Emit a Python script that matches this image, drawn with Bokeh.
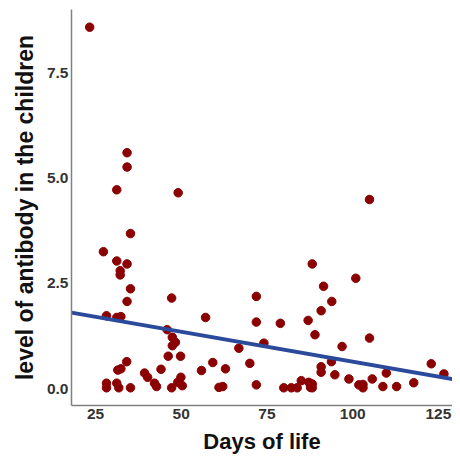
from bokeh.plotting import figure
from bokeh.models import ColumnDataSource, FixedTicker, NumeralTickFormatter, Range1d
from bokeh.embed import file_html
from bokeh.resources import INLINE
import numpy as np

days = [23.3, 34.2, 34.2, 31.2, 49.1, 35.2, 27.3, 31.2, 34.2, 32.2,
        32.2, 35.2, 34.2, 47.2, 28.2, 31.2, 32.4, 45.9, 47.4, 48.3,
        47.4, 46.2, 49.8, 34.1, 31.5, 32.4, 44.1, 39.3, 40.2, 49.9,
        42.2, 42.8, 49.0, 50.3, 47.2, 28.2, 28.2, 31.2, 31.8, 35.2,
        71.9, 57.1, 71.9, 78.9, 87.0, 90.8, 89.0, 74.1, 66.8, 59.2,
        70.0, 55.9, 62.9, 61.0, 62.1, 71.9, 79.9, 82.1, 83.8, 85.0,
        87.2, 87.7, 90.8, 90.8, 91.5, 104.9, 88.2, 100.9, 93.9, 96.9,
        104.9, 93.8, 94.8, 98.9, 101.8, 103.0, 103.0, 105.7, 108.8, 109.8,
        112.8, 117.8, 122.9, 126.6, 88.2, 88.2]
antibody = [8.58, 5.60, 5.26, 4.72, 4.65, 3.68, 3.25, 3.03, 2.96, 2.80,
            2.70, 2.37, 2.07, 2.15, 1.73, 1.69, 1.71, 1.40, 1.22, 1.10,
            1.02, 0.77, 0.77, 0.64, 0.44, 0.47, 0.46, 0.37, 0.27, 0.27,
            0.13, 0.05, 0.15, 0.07, 0.02, 0.13, 0.02, 0.13, 0.02, 0.02,
            2.19, 1.69, 1.58, 1.55, 1.62, 1.85, 1.28, 1.08, 0.96, 0.62,
            0.60, 0.43, 0.47, 0.03, 0.05, 0.09, 0.02, 0.02, 0.02, 0.19,
            0.15, 0.03, 0.52, 0.39, 2.43, 4.49, 2.96, 2.62, 2.07, 1.00,
            1.20, 0.64, 0.33, 0.23, 0.09, 0.10, 0.02, 0.23, 0.05, 0.37,
            0.05, 0.14, 0.59, 0.35, 0.11, 0.02]

fit_intercept = 2.06
fit_slope = -0.0142

x_ticks = [25, 50, 75, 100, 125]
y_ticks = [0, 2.5, 5.0, 7.5]

x_lo, x_hi = 18, 129.1
y_lo, y_hi = -0.4, 9.0

p = figure(width=452, height=456, output_backend="svg", toolbar_location=None,
           x_range=Range1d(x_lo, x_hi), y_range=Range1d(y_lo, y_hi),
           min_border_left=71, min_border_right=0, min_border_top=9, min_border_bottom=51)
p.outline_line_color = None
p.grid.grid_line_color = None
p.background_fill_color = "white"

src = ColumnDataSource(dict(x=days, y=antibody))
p.scatter("x", "y", source=src, size=8.5, fill_color="#8b0000", line_color="#8b0000")

fx = np.array([x_lo, x_hi])
p.line(fx, fit_intercept + fit_slope * fx, line_color="#2b4a9b", line_width=4)

p.xaxis.ticker = FixedTicker(ticks=x_ticks)
p.yaxis.ticker = FixedTicker(ticks=y_ticks)
p.yaxis.formatter = NumeralTickFormatter(format="0.0")
p.xaxis.axis_label = "Days of life"
p.yaxis.axis_label = "level of antibody in the children"
for ax in (p.xaxis, p.yaxis):
    ax.major_tick_line_color = None
    ax.minor_tick_line_color = None
    ax.major_tick_out = 0
    ax.major_tick_in = 0
    ax.minor_tick_out = 0
    ax.axis_line_color = "#808080"
    ax.axis_line_width = 1.5
    ax.major_label_text_font = "Liberation Sans"
    ax.major_label_text_font_style = "bold"
    ax.major_label_text_font_size = "15.5px"
    ax.major_label_text_color = "#333333"
    ax.axis_label_text_font = "Liberation Sans"
    ax.axis_label_text_font_style = "bold"
    ax.axis_label_text_color = "#111111"
p.xaxis.axis_label_text_font_size = "22px"
p.yaxis.axis_label_text_font_size = "23px"
p.xaxis.major_label_standoff = 3
p.yaxis.major_label_standoff = 3
p.xaxis.axis_label_standoff = 7
p.yaxis.axis_label_standoff = 6

open("out.html", "w").write(file_html(p, INLINE))
